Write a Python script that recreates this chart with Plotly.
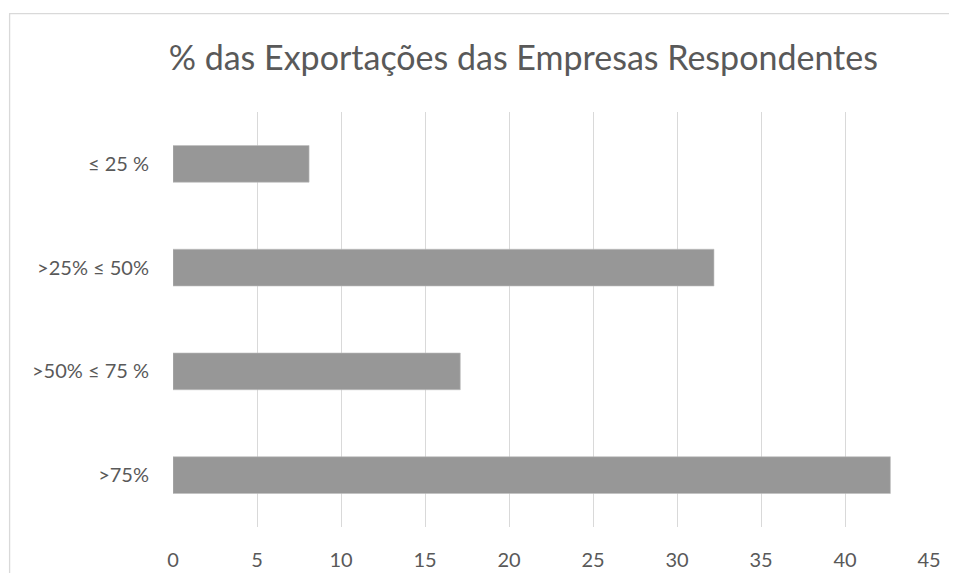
import plotly.graph_objects as go

categories = [">75%", ">50% ≤ 75 %", ">25% ≤ 50%", "≤ 25 %"]
values = [42.7, 17.1, 32.2, 8.1]
x_ticks = [0, 5, 10, 15, 20, 25, 30, 35, 40, 45]
title_text = "% das Exportações das Empresas Respondentes"

# page body has an 8px default margin; figure is laid out in its own coords
OFF = 8
W, H = 957 - 2 * OFF, 581 - 2 * OFF
px_left, px_right, px_top, px_bottom = 172.7 - OFF, 928.7 - OFF, 112 - OFF, 526.7 - OFF
L, R, T, B = px_left, W - px_right, px_top, H - px_bottom
pw, ph = W - L - R, H - T - B

font_family = "Lato, Open Sans, sans-serif"
text_color = "#595959"

fig = go.Figure(go.Bar(
    x=values, y=categories, orientation="h",
    marker=dict(color="#979797", line=dict(color="#bdbdbd", width=0.6)),
    hoverinfo="x+y",
))

fig.update_layout(
    width=W, height=H,
    margin=dict(l=L, r=R, t=T, b=B, autoexpand=False),
    paper_bgcolor="white", plot_bgcolor="white",
    bargap=0.646,
    showlegend=False,
    title=dict(text=title_text, x=(523 - OFF - L) / pw, xref="paper", xanchor="center",
               y=1 - (58 - OFF) / H, yref="container", yanchor="middle",
               font=dict(family=font_family, size=34, color=text_color)),
    font=dict(family=font_family, color=text_color),
    xaxis=dict(range=[0, 45], tickvals=x_ticks, ticktext=[str(v) for v in x_ticks],
               showgrid=True, gridcolor="#d9d9d9", gridwidth=1.3,
               zeroline=False, showline=False, ticks="",
               ticklabelstandoff=19,
               tickfont=dict(size=20, color=text_color, family=font_family)),
    yaxis=dict(categoryorder="array", categoryarray=categories,
               showgrid=False, zeroline=False, showline=False, ticks="",
               ticklabelstandoff=23,
               tickfont=dict(size=20, color=text_color, family=font_family)),
    shapes=[dict(type="rect", xref="paper", yref="paper",
                 x0=(9.3 - OFF - L) / pw, x1=1.2, y0=-0.3, y1=(px_bottom - (13.7 - OFF)) / ph,
                 line=dict(color="#d9d9d9", width=1.3), fillcolor="rgba(0,0,0,0)",
                 layer="below")],
)

fig.write_html("out.html")
